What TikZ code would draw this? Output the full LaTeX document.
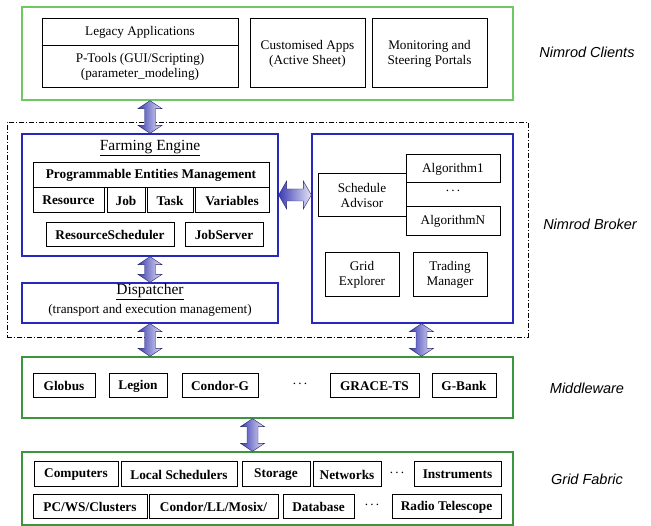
\documentclass[tikz,border=0pt]{standalone}
\usepackage{fontspec}
\setmainfont{Liberation Serif}
\newfontfamily\tagfont{Liberation Sans}
\usetikzlibrary{positioning, calc}

\definecolor{clientgreen}{RGB}{110,200,100}
\definecolor{layergreen}{RGB}{60,150,60}
\definecolor{engineblue}{RGB}{40,40,190}
\definecolor{arrowdark}{RGB}{60,60,180}
\definecolor{arrowlight}{RGB}{228,228,246}

% fat two-headed arrows (top to bottom, left to right)
\newcommand{\vfatarrow}[2]{%
  \shadedraw[fatarrow] let \p1=(#1), \p2=(#2) in
    (\x1,\y1) -- (\x1+12pt,\y1-8pt) -- (\x1+5.5pt,\y1-8pt) -- (\x1+5.5pt,\y2+8pt)
    -- (\x1+12pt,\y2+8pt) -- (\x1,\y2) -- (\x1-12pt,\y2+8pt) -- (\x1-5.5pt,\y2+8pt)
    -- (\x1-5.5pt,\y1-8pt) -- (\x1-12pt,\y1-8pt) -- cycle;}
\newcommand{\hfatarrow}[2]{%
  \shadedraw[fatarrow] let \p1=(#1), \p2=(#2) in
    (\x1,\y1) -- (\x1+8pt,\y1+14pt) -- (\x1+8pt,\y1+6pt) -- (\x2-8pt,\y1+6pt)
    -- (\x2-8pt,\y1+14pt) -- (\x2,\y1) -- (\x2-8pt,\y1-14pt) -- (\x2-8pt,\y1-6pt)
    -- (\x1+8pt,\y1-6pt) -- (\x1+8pt,\y1-14pt) -- cycle;}

\begin{document}
\begin{tikzpicture}[x=1pt, y=-1pt,
  unit/.style={draw, line width=1pt, inner sep=0pt, align=center, font=\fontsize{13.2}{15}\selectfont},
  bunit/.style={unit, font=\fontsize{13.3}{15}\selectfont\bfseries},
  layer/.style={draw=layergreen, line width=1.3pt, inner sep=0pt},
  engine/.style={draw=engineblue, line width=1.3pt, inner sep=0pt},
  tag/.style={font=\fontsize{14.5}{16}\selectfont\tagfont\itshape},
  fatarrow/.style={left color=arrowdark, right color=arrowlight, draw=arrowdark!60!black, line width=0.4pt}]

  \useasboundingbox (0,0) rectangle (651,526);

  % Nimrod clients
  \node[layer, draw=clientgreen, minimum width=491, minimum height=93] (clients-box) at (267.5,53.5) {};
  \node[unit, minimum width=196, minimum height=27] (legacy-top) at (140,32.5) {Legacy Applications};
  \node[unit, minimum width=196, minimum height=42] (legacy-bot) at (140,67) {P-Tools (GUI/Scripting)\\(parameter\_modeling)};
  \node[unit, minimum width=115, minimum height=69] (custom) at (307.5,53.5) {Customised Apps\\(Active Sheet)};
  \node[unit, minimum width=115, minimum height=69] (monitor) at (429.5,53.5) {Monitoring and\\Steering Portals};
  \node[tag] (clients-tag) at (587,52) {Nimrod Clients};

  % Nimrod broker
  \node[draw, line width=0.8pt, dash pattern=on 5pt off 2pt on 1pt off 2pt, minimum width=521, minimum height=215] (broker-box) at (267.5,229.5) {};
  \node[engine, minimum width=256, minimum height=122] (farming) at (150,195) {};
  \node[font=\fontsize{15.5}{17}\selectfont] (farming-title) at (150,148) {\underline{Farming Engine}};
  \node[bunit, minimum width=236, minimum height=25] (pem) at (151,175.5) {Programmable Entities Management};
  \node[bunit, minimum width=71, minimum height=25] (resource) at (68.5,200.5) {Resource};
  \node[bunit, minimum width=38, minimum height=25] (job) at (126,200.5) {Job};
  \node[bunit, minimum width=46, minimum height=25] (task) at (170,200.5) {Task};
  \node[bunit, minimum width=74, minimum height=25] (variables) at (232,200.5) {Variables};
  \node[bunit, minimum width=128, minimum height=24] (rsched) at (110,235) {ResourceScheduler};
  \node[bunit, minimum width=78, minimum height=24] (jobserver) at (224,235) {JobServer};

  \node[engine, minimum width=256, minimum height=40] (dispatcher) at (150,303) {};
  \node[font=\fontsize{15.5}{17}\selectfont] (dispatcher-title) at (150,292) {\underline{Dispatcher}};
  \node[font=\fontsize{13.2}{15}\selectfont] (dispatcher-note) at (150,310) {(transport and execution management)};

  \node[engine, minimum width=201, minimum height=189] (advisor-box) at (412.5,228.5) {};
  \node[unit, minimum width=88, minimum height=43] (advisor) at (362,195.5) {Schedule\\Advisor};
  \node[unit, minimum width=94, minimum height=28] (algo-1) at (453,169) {Algorithm1};
  \node[font=\fontsize{13.2}{15}\selectfont] (algo-dots) at (453,191) {.\,.\,.};
  \node[unit, minimum width=94, minimum height=29] (algo-n) at (453,221.5) {AlgorithmN};
  \node[unit, minimum width=74, minimum height=44] (explorer) at (362,275) {Grid\\Explorer};
  \node[unit, minimum width=74, minimum height=44] (trading) at (450,275) {Trading\\Manager};
  \node[tag] (broker-tag) at (590,224) {Nimrod Broker};

  % Middleware
  \node[layer, minimum width=491, minimum height=61] (middleware) at (267.5,387.5) {};
  \node[bunit, minimum width=62, minimum height=24] (globus) at (64,386) {Globus};
  \node[bunit, minimum width=58, minimum height=24] (legion) at (138,386) {Legion};
  \node[bunit, minimum width=76, minimum height=24] (condor-g) at (220,386) {Condor-G};
  \node[font=\fontsize{13.2}{15}\selectfont] (mw-dots) at (300,384) {.\,.\,.};
  \node[bunit, minimum width=89, minimum height=24] (grace) at (374.5,386) {GRACE-TS};
  \node[bunit, minimum width=64, minimum height=24] (g-bank) at (464,386) {G-Bank};
  \node[tag] (middleware-tag) at (587,388) {Middleware};

  % Grid fabric
  \node[layer, minimum width=491, minimum height=73] (fabric) at (267.5,488.5) {};
  \node[bunit, minimum width=84, minimum height=25] (computers) at (76,474.5) {Computers};
  \node[bunit, minimum width=116, minimum height=25] (local-sched) at (179,474.5) {Local Schedulers};
  \node[bunit, minimum width=68, minimum height=25] (storage) at (276,474.5) {Storage};
  \node[bunit, minimum width=68, minimum height=25] (networks) at (347,474.5) {Networks};
  \node[font=\fontsize{13.2}{15}\selectfont] (fab-dots-1) at (397,473) {.\,.\,.};
  \node[bunit, minimum width=87, minimum height=25] (instruments) at (457.5,474.5) {Instruments};
  \node[bunit, minimum width=114, minimum height=24] (pc-ws) at (90,507) {PC/WS/Clusters};
  \node[bunit, minimum width=129, minimum height=24] (condor-ll) at (213.5,507) {Condor/LL/Mosix/};
  \node[bunit, minimum width=71, minimum height=24] (database) at (318.5,507) {Database};
  \node[font=\fontsize{13.2}{15}\selectfont] (fab-dots-2) at (372,505) {.\,.\,.};
  \node[bunit, minimum width=109, minimum height=24] (radio) at (446.5,507) {Radio Telescope};
  \node[tag] (fabric-tag) at (587,479) {Grid Fabric};

  % connectors
  \coordinate (a1-top) at (farming.north |- clients-box.south);
  \vfatarrow{a1-top}{farming.north}
  \vfatarrow{farming.south}{dispatcher.north}
  \hfatarrow{farming.east}{farming.east -| advisor-box.west}
  \vfatarrow{dispatcher.south}{dispatcher.south |- middleware.north}
  \coordinate (a5-top) at ($(advisor-box.south)+(9,0)$);
  \vfatarrow{a5-top}{a5-top |- middleware.north}
  \coordinate (a6-top) at ($(middleware.south)+(-15,0)$);
  \vfatarrow{a6-top}{a6-top |- fabric.north}

\end{tikzpicture}
\end{document}
